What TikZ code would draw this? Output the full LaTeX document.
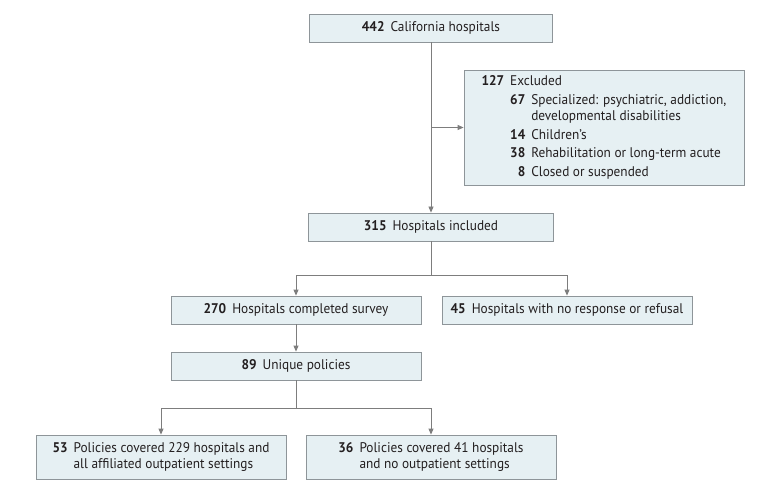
\documentclass[tikz,border=0pt]{standalone}
\usepackage{fontspec}
\setsansfont[FakeStretch=0.95]{PT Sans}
\usetikzlibrary{arrows.meta, positioning, calc}
\definecolor{cfill}{HTML}{E6F0F3}
\definecolor{cedge}{HTML}{8E9599}
\definecolor{cline}{HTML}{7D7D7D}
\definecolor{ctext}{HTML}{231F20}
\newcommand{\flowcount}[2]{\textbf{#1}\hspace{6pt}#2}
\tikzset{
  every picture/.style={font=\sffamily\fontsize{14}{16.5}\selectfont, text=ctext},
  box/.style={draw=cedge, fill=cfill, line width=0.8pt, align=center, inner sep=0pt,
              minimum width=250pt, minimum height=28pt},
  arrow/.style={-{Triangle[length=6pt, width=5pt]}, draw=cline, line width=0.8pt},
  link/.style={draw=cline, line width=0.8pt},
}
\begin{document}
\begin{tikzpicture}[x=1pt, y=-1pt]
  \useasboundingbox (0,0) rectangle (780,492);
  \node[box, minimum width=243pt] (all) at (431,28) {\flowcount{442}{California hospitals}};
  \node[box, minimum width=280pt, minimum height=115pt, align=left] (excl) at (604,127.5) {%
    \begin{tabular}{@{}r@{\hspace{6pt}}r@{\hspace{6pt}}l@{}}
      \textbf{127} & \multicolumn{2}{@{}l@{}}{Excluded}\\[2pt]
       & \textbf{67} & Specialized: psychiatric, addiction,\\
       & & developmental disabilities\\[2pt]
       & \textbf{14} & Children’s\\[2pt]
       & \textbf{38} & Rehabilitation or long-term acute\\[2pt]
       & \textbf{8} & Closed or suspended
    \end{tabular}};
  \node[box, minimum width=245pt] (incl) at (431,227) {\flowcount{315}{Hospitals included}};
  \node[box] (done) at (296,310) {\flowcount{270}{Hospitals completed survey}};
  \node[box] (nores) at (567,310) {\flowcount{45}{Hospitals with no response or refusal}};
  \node[box] (uniq) at (296,366) {\flowcount{89}{Unique policies}};
  \node[box, minimum height=44pt] (allout) at (161,457) {%
    \begin{tabular}{@{}r@{\hspace{6pt}}l@{}}
      \textbf{53} & Policies covered 229 hospitals and\\
       & all affiliated outpatient settings
    \end{tabular}};
  \node[box, minimum height=44pt] (noout) at (431,457) {%
    \begin{tabular}{@{}r@{\hspace{6pt}}l@{}}
      \textbf{36} & Policies covered 41 hospitals\\
       & and no outpatient settings
    \end{tabular}};
  % main flow
  \draw[arrow] (all.south) -- (incl.north);
  \draw[arrow] (all.south |- excl.west) -- (excl.west);
  \coordinate (split1) at ($(incl.south)+(0,34)$);
  \draw[link] (incl.south) -- (split1);
  \draw[arrow] (split1) -| (done.north);
  \draw[arrow] (split1) -| (nores.north);
  \draw[arrow] (done.south) -- (uniq.north);
  \coordinate (split2) at ($(uniq.south)+(0,28)$);
  \draw[link] (uniq.south) -- (split2);
  \draw[arrow] (split2) -| (allout.north);
  \draw[arrow] (split2) -| (noout.north);
\end{tikzpicture}
\end{document}
